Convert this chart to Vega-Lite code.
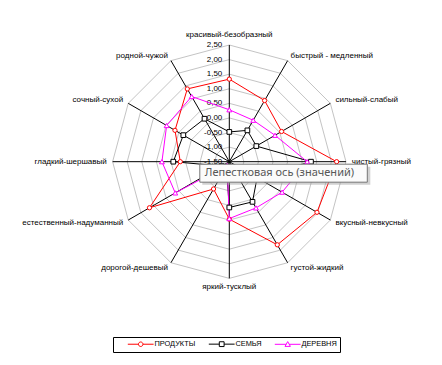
{
  "$schema": "https://vega.github.io/schema/vega-lite/v6.json",
  "width": 442,
  "height": 365,
  "padding": 0,
  "autosize": {"type": "none"},
  "background": "white",
  "config": {"view": {"stroke": null}},
  "datasets": {
    "scores": [
      {"series": "ПРОДУКТЫ", "axis": "красивый-безобразный", "value": 1.33},
      {"series": "ПРОДУКТЫ", "axis": "быстрый - медленный", "value": 0.92},
      {"series": "ПРОДУКТЫ", "axis": "сильный-слабый", "value": 0.57},
      {"series": "ПРОДУКТЫ", "axis": "чистый-грязный", "value": 2.18},
      {"series": "ПРОДУКТЫ", "axis": "вкусный-невкусный", "value": 1.97},
      {"series": "ПРОДУКТЫ", "axis": "густой-жидкий", "value": 1.79},
      {"series": "ПРОДУКТЫ", "axis": "яркий-тусклый", "value": 0.47},
      {"series": "ПРОДУКТЫ", "axis": "дорогой-дешевый", "value": -0.42},
      {"series": "ПРОДУКТЫ", "axis": "естественный-надуманный", "value": 1.66},
      {"series": "ПРОДУКТЫ", "axis": "гладкий-шершавый", "value": 0.18},
      {"series": "ПРОДУКТЫ", "axis": "сочный-сухой", "value": 0.65},
      {"series": "ПРОДУКТЫ", "axis": "родной-чужой", "value": 1.38},
      {"series": "СЕМЬЯ", "axis": "красивый-безобразный", "value": -0.48},
      {"series": "СЕМЬЯ", "axis": "быстрый - медленный", "value": -0.26},
      {"series": "СЕМЬЯ", "axis": "сильный-слабый", "value": -0.43},
      {"series": "СЕМЬЯ", "axis": "чистый-грязный", "value": 1.30},
      {"series": "СЕМЬЯ", "axis": "вкусный-невкусный", "value": -0.40},
      {"series": "СЕМЬЯ", "axis": "густой-жидкий", "value": 0.09},
      {"series": "СЕМЬЯ", "axis": "яркий-тусклый", "value": 0.07},
      {"series": "СЕМЬЯ", "axis": "дорогой-дешевый", "value": -1.30},
      {"series": "СЕМЬЯ", "axis": "естественный-надуманный", "value": -1.20},
      {"series": "СЕМЬЯ", "axis": "гладкий-шершавый", "value": 0.42},
      {"series": "СЕМЬЯ", "axis": "сочный-сухой", "value": 0.32},
      {"series": "СЕМЬЯ", "axis": "родной-чужой", "value": 0.20},
      {"series": "ДЕРЕВНЯ", "axis": "красивый-безобразный", "value": 0.28},
      {"series": "ДЕРЕВНЯ", "axis": "быстрый - медленный", "value": 0.14},
      {"series": "ДЕРЕВНЯ", "axis": "сильный-слабый", "value": 0.31},
      {"series": "ДЕРЕВНЯ", "axis": "чистый-грязный", "value": 1.17},
      {"series": "ДЕРЕВНЯ", "axis": "вкусный-невкусный", "value": 0.59},
      {"series": "ДЕРЕВНЯ", "axis": "густой-жидкий", "value": 0.33},
      {"series": "ДЕРЕВНЯ", "axis": "яркий-тусклый", "value": 0.45},
      {"series": "ДЕРЕВНЯ", "axis": "дорогой-дешевый", "value": -1.35},
      {"series": "ДЕРЕВНЯ", "axis": "естественный-надуманный", "value": 0.64},
      {"series": "ДЕРЕВНЯ", "axis": "гладкий-шершавый", "value": 0.81},
      {"series": "ДЕРЕВНЯ", "axis": "сочный-сухой", "value": 0.98},
      {"series": "ДЕРЕВНЯ", "axis": "родной-чужой", "value": 1.08}
    ],
    "axes": [
      {"axis": "красивый-безобразный"},
      {"axis": "быстрый - медленный"},
      {"axis": "сильный-слабый"},
      {"axis": "чистый-грязный"},
      {"axis": "вкусный-невкусный"},
      {"axis": "густой-жидкий"},
      {"axis": "яркий-тусклый"},
      {"axis": "дорогой-дешевый"},
      {"axis": "естественный-надуманный"},
      {"axis": "гладкий-шершавый"},
      {"axis": "сочный-сухой"},
      {"axis": "родной-чужой"}
    ],
    "levels": [
      {"level": -1.5, "label": "-1,50"},
      {"level": -1.0, "label": "-1,00"},
      {"level": -0.5, "label": "-0,50"},
      {"level": 0.0, "label": "0,00"},
      {"level": 0.5, "label": "0,50"},
      {"level": 1.0, "label": "1,00"},
      {"level": 1.5, "label": "1,50"},
      {"level": 2.0, "label": "2,00"},
      {"level": 2.5, "label": "2,50"}
    ],
    "callout": [{"text": "Лепестковая ось (значений)"}]
  },
  "encoding": {
    "x": {"field": "px", "type": "quantitative", "scale": {"domain": [-7.861, 7.292], "nice": false, "zero": false}, "axis": null},
    "y": {"field": "py", "type": "quantitative", "scale": {"domain": [-6.97, 5.543], "nice": false, "zero": false}, "axis": null}
  },
  "layer": [
    {
      "data": {"name": "axes"},
      "transform": [
        {"window": [{"op": "row_number", "as": "rn"}]},
        {"calculate": "[-1, -0.5, 0, 0.5, 1, 1.5, 2, 2.5]", "as": "lv"},
        {"flatten": ["lv"]},
        {"calculate": "(datum.rn - 1) * PI / 6", "as": "ang"},
        {"calculate": "(datum.lv + 1.5) * sin(datum.ang)", "as": "px"},
        {"calculate": "(datum.lv + 1.5) * cos(datum.ang)", "as": "py"}
      ],
      "mark": {"type": "line", "interpolate": "linear-closed", "color": "#c4c4c4", "strokeWidth": 1},
      "encoding": {
        "detail": {"field": "lv", "type": "nominal"},
        "order": {"field": "rn", "type": "quantitative"}
      }
    },
    {
      "data": {"name": "axes"},
      "transform": [
        {"window": [{"op": "row_number", "as": "rn"}]},
        {"calculate": "(datum.rn - 1) * PI / 6", "as": "ang"},
        {"calculate": "4 * sin(datum.ang)", "as": "px"},
        {"calculate": "4 * cos(datum.ang)", "as": "py"}
      ],
      "mark": {"type": "rule", "color": "#000000", "strokeWidth": 1},
      "encoding": {
        "x2": {"datum": 0},
        "y2": {"datum": 0}
      }
    },
    {
      "data": {"name": "levels"},
      "transform": [
        {"calculate": "0", "as": "px"},
        {"calculate": "datum.level + 1.5", "as": "py"}
      ],
      "mark": {"type": "text", "align": "right", "baseline": "middle", "dx": -7, "font": "Liberation Sans", "fontSize": 8, "color": "#000000"},
      "encoding": {"text": {"field": "label", "type": "nominal"}}
    },
    {
      "data": {"name": "scores"},
      "transform": [
        {"window": [{"op": "row_number", "as": "rn"}], "groupby": ["series"]},
        {"calculate": "(datum.rn - 1) * PI / 6", "as": "ang"},
        {"calculate": "(datum.value + 1.5) * sin(datum.ang)", "as": "px"},
        {"calculate": "(datum.value + 1.5) * cos(datum.ang)", "as": "py"}
      ],
      "mark": {"type": "line", "interpolate": "linear-closed", "strokeWidth": 1},
      "encoding": {
        "color": {
          "field": "series",
          "type": "nominal",
          "scale": {"domain": ["ПРОДУКТЫ", "СЕМЬЯ", "ДЕРЕВНЯ"], "range": ["#FF0000", "#000000", "#FF00FF"]},
          "legend": {
            "title": null,
            "orient": "none",
            "legendX": 113,
            "legendY": 337,
            "direction": "horizontal",
            "strokeColor": "#000000",
            "fillColor": "#ffffff",
            "padding": 3,
            "columnPadding": 1,
            "symbolSize": 36,
            "symbolStrokeWidth": 1,
            "symbolOffset": 21,
            "labelOffset": 10,
            "labelFont": "Liberation Sans",
            "labelFontSize": 7.4,
            "labelColor": "#000000",
            "encode": {
              "symbols": {
                "update": {
                  "shape": {"signal": "datum.value === 'ПРОДУКТЫ' ? 'M-4.3,0H-0.75M0.75,0H4.3M-0.75,0A0.75,0.75 0 1,0 0.75,0A0.75,0.75 0 1,0 -0.75,0Z' : datum.value === 'СЕМЬЯ' ? 'M-4.3,0H-0.8M0.8,0H4.3M-0.8,-0.8H0.8V0.8H-0.8Z' : 'M-4.3,0H-0.5M0.5,0H4.3M0,-0.9L0.9,0.7H-0.9Z'"},
                  "fill": {"value": "#ffffff"},
                  "fillOpacity": {"value": 1},
                  "strokeWidth": {"value": 1}
                }
              }
            }
          }
        },
        "order": {"field": "rn", "type": "quantitative"}
      }
    },
    {
      "data": {"name": "scores"},
      "transform": [
        {"window": [{"op": "row_number", "as": "rn"}], "groupby": ["series"]},
        {"calculate": "(datum.rn - 1) * PI / 6", "as": "ang"},
        {"calculate": "(datum.value + 1.5) * sin(datum.ang)", "as": "px"},
        {"calculate": "(datum.value + 1.5) * cos(datum.ang)", "as": "py"},
        {"filter": "datum.series === 'ПРОДУКТЫ'"}
      ],
      "mark": {"type": "point", "shape": "circle", "filled": false, "fill": "#ffffff", "fillOpacity": 1, "opacity": 1, "stroke": "#FF0000", "strokeWidth": 1, "size": 18}
    },
    {
      "data": {"name": "scores"},
      "transform": [
        {"window": [{"op": "row_number", "as": "rn"}], "groupby": ["series"]},
        {"calculate": "(datum.rn - 1) * PI / 6", "as": "ang"},
        {"calculate": "(datum.value + 1.5) * sin(datum.ang)", "as": "px"},
        {"calculate": "(datum.value + 1.5) * cos(datum.ang)", "as": "py"},
        {"filter": "datum.series === 'СЕМЬЯ'"}
      ],
      "mark": {"type": "point", "shape": "square", "filled": false, "fill": "#ffffff", "fillOpacity": 1, "opacity": 1, "stroke": "#000000", "strokeWidth": 1, "size": 22}
    },
    {
      "data": {"name": "scores"},
      "transform": [
        {"window": [{"op": "row_number", "as": "rn"}], "groupby": ["series"]},
        {"calculate": "(datum.rn - 1) * PI / 6", "as": "ang"},
        {"calculate": "(datum.value + 1.5) * sin(datum.ang)", "as": "px"},
        {"calculate": "(datum.value + 1.5) * cos(datum.ang)", "as": "py"},
        {"filter": "datum.series === 'ДЕРЕВНЯ'"}
      ],
      "mark": {"type": "point", "shape": "triangle-up", "filled": false, "fill": "#ffffff", "fillOpacity": 1, "opacity": 1, "stroke": "#FF00FF", "strokeWidth": 1, "size": 24}
    },
    {
      "data": {"name": "axes"},
      "transform": [
        {"window": [{"op": "row_number", "as": "rn"}]},
        {"calculate": "(datum.rn - 1) * PI / 6", "as": "ang"},
        {"calculate": "4.2 * sin(datum.ang)", "as": "px"},
        {"calculate": "4.2 * cos(datum.ang)", "as": "py"},
        {"filter": "datum.rn >= 2 && datum.rn <= 6"}
      ],
      "mark": {"type": "text", "align": "left", "baseline": "middle", "font": "Liberation Sans", "fontSize": 8, "color": "#000000"},
      "encoding": {"text": {"field": "axis", "type": "nominal"}}
    },
    {
      "data": {"name": "axes"},
      "transform": [
        {"window": [{"op": "row_number", "as": "rn"}]},
        {"calculate": "(datum.rn - 1) * PI / 6", "as": "ang"},
        {"calculate": "4.2 * sin(datum.ang)", "as": "px"},
        {"calculate": "4.2 * cos(datum.ang)", "as": "py"},
        {"filter": "datum.rn >= 8"}
      ],
      "mark": {"type": "text", "align": "right", "baseline": "middle", "font": "Liberation Sans", "fontSize": 8, "color": "#000000"},
      "encoding": {"text": {"field": "axis", "type": "nominal"}}
    },
    {
      "data": {"name": "axes"},
      "transform": [
        {"window": [{"op": "row_number", "as": "rn"}]},
        {"calculate": "(datum.rn - 1) * PI / 6", "as": "ang"},
        {"calculate": "4.2 * sin(datum.ang)", "as": "px"},
        {"calculate": "4.2 * cos(datum.ang)", "as": "py"},
        {"filter": "datum.rn == 1"}
      ],
      "mark": {"type": "text", "align": "center", "baseline": "bottom", "font": "Liberation Sans", "fontSize": 8, "color": "#000000"},
      "encoding": {"text": {"field": "axis", "type": "nominal"}}
    },
    {
      "data": {"name": "axes"},
      "transform": [
        {"window": [{"op": "row_number", "as": "rn"}]},
        {"calculate": "(datum.rn - 1) * PI / 6", "as": "ang"},
        {"calculate": "4.2 * sin(datum.ang)", "as": "px"},
        {"calculate": "4.2 * cos(datum.ang)", "as": "py"},
        {"filter": "datum.rn == 7"}
      ],
      "mark": {"type": "text", "align": "center", "baseline": "top", "dy": -1, "font": "Liberation Sans", "fontSize": 8, "color": "#000000"},
      "encoding": {"text": {"field": "axis", "type": "nominal"}}
    },
    {
      "data": {"name": "callout"},
      "transform": [{"calculate": "0", "as": "px"}, {"calculate": "0", "as": "py"}],
      "mark": {"type": "rect", "color": "#9a9a9a", "opacity": 0.45, "xOffset": -27, "x2Offset": 141, "yOffset": 5, "y2Offset": 23},
      "encoding": {"x2": {"datum": 0}, "y2": {"datum": 0}}
    },
    {
      "data": {"name": "callout"},
      "transform": [{"calculate": "0", "as": "px"}, {"calculate": "0", "as": "py"}],
      "mark": {"type": "rect", "fill": "#fbfbfb", "stroke": "#767676", "strokeWidth": 1, "xOffset": -29.5, "x2Offset": 138, "yOffset": 2.5, "y2Offset": 20.5},
      "encoding": {"x2": {"datum": 0}, "y2": {"datum": 0}}
    },
    {
      "data": {"name": "callout"},
      "transform": [{"calculate": "0", "as": "px"}, {"calculate": "0", "as": "py"}],
      "mark": {"type": "text", "align": "left", "baseline": "middle", "dx": -24.5, "dy": 11.5, "font": "Noto Sans", "fontSize": 11, "color": "#575757"},
      "encoding": {"text": {"field": "text", "type": "nominal"}}
    }
  ]
}
